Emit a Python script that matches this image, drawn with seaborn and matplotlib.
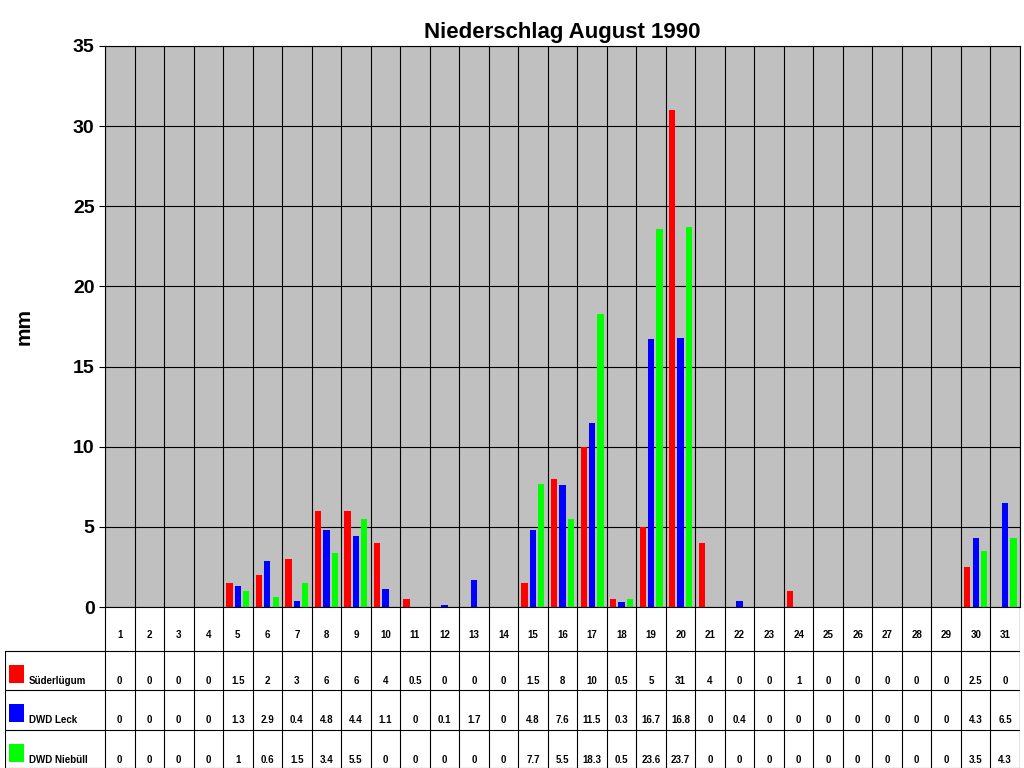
import matplotlib
matplotlib.use("Agg")
import matplotlib.pyplot as plt
import seaborn as sns
import pandas as pd
from matplotlib.patches import Rectangle

days = [str(d) for d in range(1, 32)]
series = ["Süderlügum", "DWD Leck", "DWD Niebüll"]
colors = ["#FF0000", "#0000FF", "#00FF00"]
suederluegum = [0, 0, 0, 0, 1.5, 2, 3, 6, 6, 4, 0.5, 0, 0, 0, 1.5, 8, 10, 0.5, 5, 31,
                4, 0, 0, 1, 0, 0, 0, 0, 0, 2.5, 0]
leck = [0, 0, 0, 0, 1.3, 2.9, 0.4, 4.8, 4.4, 1.1, 0, 0.1, 1.7, 0, 4.8, 7.6, 11.5, 0.3,
        16.7, 16.8, 0, 0.4, 0, 0, 0, 0, 0, 0, 0, 4.3, 6.5]
niebuell = [0, 0, 0, 0, 1, 0.6, 1.5, 3.4, 5.5, 0, 0, 0, 0, 0, 7.7, 5.5, 18.3, 0.5,
            23.6, 23.7, 0, 0, 0, 0, 0, 0, 0, 0, 0, 3.5, 4.3]
values = [suederluegum, leck, niebuell]

df = pd.DataFrame({
    "Tag": days * 3,
    "Station": [s for s in series for _ in days],
    "mm": suederluegum + leck + niebuell,
})

plt.rcParams["font.family"] = ["Liberation Sans", "DejaVu Sans"]

W, H = 1024, 768
fig = plt.figure(figsize=(W / 100, H / 100), dpi=100)
ax = fig.add_axes([105 / W, 1 - 607 / H, 915 / W, 561 / H])
ax.set_facecolor("#C0C0C0")
sns.barplot(data=df, x="Tag", y="mm", hue="Station", palette=colors, width=0.85,
            gap=0.25, ax=ax, legend=False, saturation=1)
ax.set_xlim(-0.5, 30.5)
ax.set_ylim(0, 35)
ax.set_yticks(range(0, 36, 5))
ax.tick_params(axis="y", labelsize=14, length=4)
for t in ax.get_yticklabels():
    t.set_fontweight("bold")
ax.set_xticks([])
ax.set_xlabel("")
ax.set_ylabel("mm", fontsize=15, fontweight="bold", labelpad=28)
ax.set_axisbelow(True)
ax.grid(axis="y", color="black", linewidth=0.8)
for i in range(32):
    ax.axvline(i - 0.5, color="black", linewidth=0.8, zorder=0.5)
for s in ax.spines.values():
    s.set_color("black")
ax.set_title("Niederschlag August 1990", fontsize=16, fontweight="bold", pad=6)

# data table
ncol_left = 100 / (915 / 31)
tx = fig.add_axes([5 / W, 0, 1015 / W, 161 / H])
tx.set_xlim(-0.5 - ncol_left, 30.5)
tx.set_ylim(0, 4)
tx.axis("off")
rows_y = [4, 2.9, 1.95, 0.95, 0]
lw = 0.8
for y in rows_y[1:-1]:
    tx.plot([-0.5 - ncol_left, 30.5], [y, y], color="black", lw=lw)
tx.plot([-0.5 - ncol_left, 30.5], [0.01, 0.01], color="black", lw=lw)
tx.plot([-0.5 - ncol_left, -0.5 - ncol_left], [0, 2.9], color="black", lw=lw)
for i in range(32):
    tx.plot([i - 0.5, i - 0.5], [0, 4], color="black", lw=lw)
tx.plot([30.5 - 0.01, 30.5 - 0.01], [0, 4], color="black", lw=lw)
for i, d in enumerate(days):
    tx.text(i, 3.3, d, ha="center", va="center", fontsize=7, fontweight="bold")
for r, (name, col, vals) in enumerate(zip(series, colors, values)):
    ytext = rows_y[r + 1] - 0.75
    tx.add_patch(Rectangle((-0.5 - ncol_left + 0.15, ytext - 0.05), 0.5, 0.45,
                           facecolor=col, edgecolor="none"))
    tx.text(-0.5 - ncol_left + 0.8, ytext, name, ha="left", va="center",
            fontsize=7, fontweight="bold")
    for i, v in enumerate(vals):
        tx.text(i, ytext, f"{v:g}", ha="center", va="center", fontsize=7,
                fontweight="bold")

fig.savefig("out.png", dpi=100)
